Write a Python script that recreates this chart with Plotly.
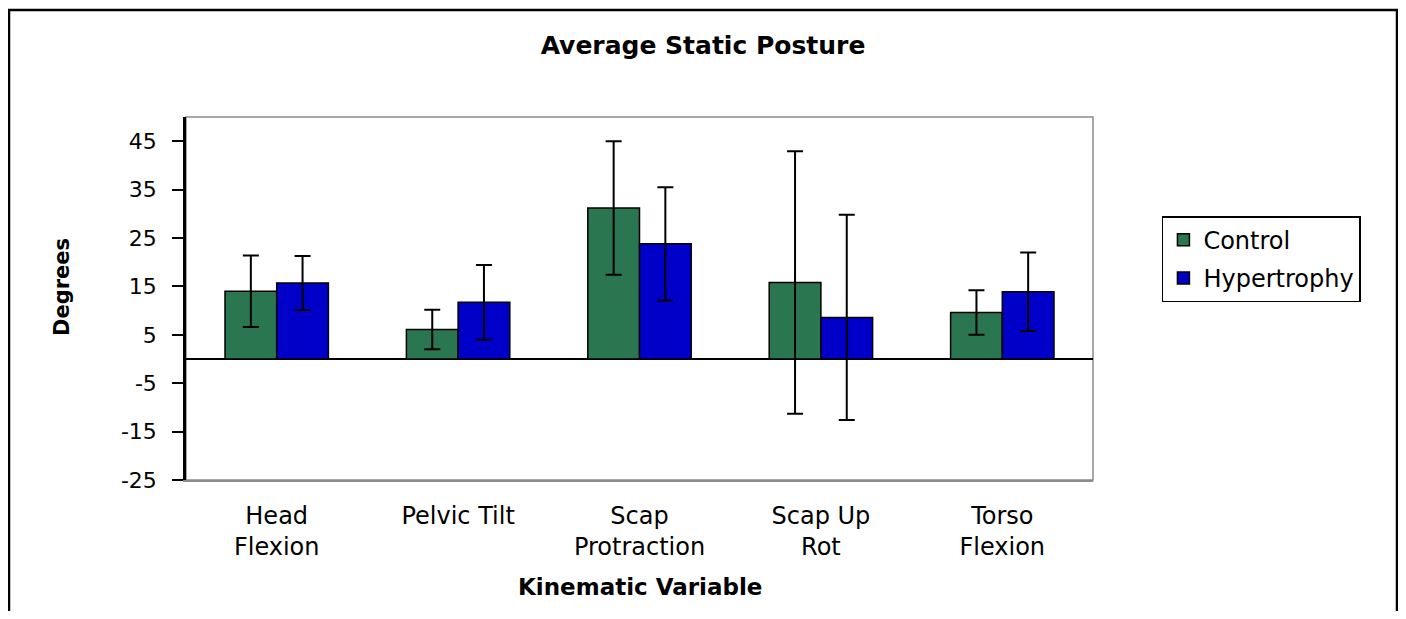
import plotly.graph_objects as go

categories = ["Head<br>Flexion", "Pelvic Tilt", "Scap<br>Protraction", "Scap Up<br>Rot", "Torso<br>Flexion"]
control = [14.0, 6.1, 31.2, 15.8, 9.6]
control_err = [7.4, 4.1, 13.8, 27.1, 4.6]
hypertrophy = [15.7, 11.7, 23.8, 8.6, 13.9]
hypertrophy_err = [5.6, 7.7, 11.7, 21.2, 8.1]
y_ticks = [-25, -15, -5, 5, 15, 25, 35, 45]
y_tick_labels = [str(v) for v in y_ticks]

x_idx = list(range(len(categories)))
boundaries = [i + 0.5 for i in range(-1, len(categories))]

FONT = "DejaVu Sans"

W, H = 1390, 603
L, T, R, B = 178, 109, 305, 131

fig = go.Figure()
fig.add_trace(go.Bar(
    x=x_idx, y=control, name="Control", legendgroup="c",
    marker=dict(color="#2A7650", line=dict(color="black", width=1.5)),
    error_y=dict(type="data", array=control_err, visible=True,
                 color="black", thickness=2, width=8),
))
fig.add_trace(go.Bar(
    x=x_idx, y=hypertrophy, name="Hypertrophy", legendgroup="h",
    marker=dict(color="#0000C8", line=dict(color="black", width=1.5)),
    error_y=dict(type="data", array=hypertrophy_err, visible=True,
                 color="black", thickness=2, width=8),
))

fig.update_layout(
    width=W, height=H,
    margin=dict(l=L, r=R, t=T, b=B),
    paper_bgcolor="white", plot_bgcolor="white",
    barmode="group", bargap=0.43, bargroupgap=0,
    font=dict(family=FONT, color="black", size=20),
    title=dict(text="<b>Average Static Posture</b>", x=0.5, xref="container",
               y=1 - 37 / H, yref="container", xanchor="center", yanchor="middle",
               font=dict(family=FONT, size=25, color="black")),
    showlegend=True,
    legend=dict(x=1.076, y=0.727, xanchor="left", yanchor="top",
                bordercolor="black", borderwidth=1.5, bgcolor="white",
                font=dict(family=FONT, size=24, color="black"),
                traceorder="grouped", tracegroupgap=4),
    xaxis=dict(range=[-0.5, 4.5], tickmode="array", tickvals=x_idx, ticktext=categories,
               showline=True, linecolor="#8c8c8c", linewidth=1.5, mirror=False,
               ticks="", ticklabelstandoff=13, showgrid=False, zeroline=False,
               tickfont=dict(family=FONT, size=24)),
    xaxis2=dict(overlaying="x", matches="x", anchor="free", position=25 / 75,
                range=[-0.5, 4.5], tickmode="array", tickvals=boundaries,
                showticklabels=False, ticks="outside", ticklen=9, tickwidth=2,
                tickcolor="black", showline=True, linecolor="black", linewidth=2,
                showgrid=False, zeroline=False),
    yaxis=dict(range=[-25, 50], tickmode="array", tickvals=y_ticks, ticktext=y_tick_labels,
               ticks="outside", ticklen=11, tickwidth=2, tickcolor="black",
               showline=True, linecolor="black", linewidth=2.5,
               showgrid=False, zeroline=True, zerolinecolor="black", zerolinewidth=2,
               ticklabelstandoff=11, tickfont=dict(family=FONT, size=22)),
    shapes=[
        dict(type="rect", xref="paper", yref="paper", x0=0, x1=1, y0=0, y1=1,
             line=dict(color="#8c8c8c", width=1.5), layer="below"),
        dict(type="rect", xref="paper", yref="paper",
             x0=(1 - L) / 907, x1=(1389 - L) / 907,
             y0=-0.6, y1=1 + (T - 2) / 363,
             line=dict(color="black", width=2.5), layer="below"),
    ],
    annotations=[
        dict(text="<b>Degrees</b>", xref="paper", yref="paper",
             x=(54 - L) / 907, y=(472 - 279) / 363, xanchor="center", yanchor="middle",
             textangle=-90, showarrow=False, font=dict(family=FONT, size=21, color="black")),
        dict(text="<b>Kinematic Variable</b>", xref="paper", yref="paper",
             x=0.5, y=(472 - 579) / 363, xanchor="center", yanchor="middle",
             showarrow=False, font=dict(family=FONT, size=23, color="black")),
    ],
)

fig.write_html("out.html")
